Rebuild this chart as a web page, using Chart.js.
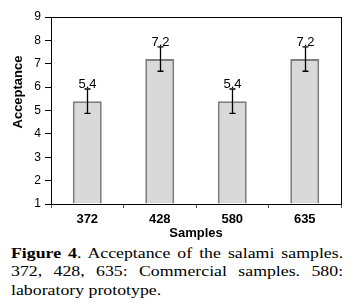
<!DOCTYPE html>
<html>
<head>
<meta charset="utf-8">
<script src="https://cdn.jsdelivr.net/npm/chart.js@4.4.0/dist/chart.umd.min.js"></script>
<style>
  body { margin: 0; background: #fff; overflow: hidden; }
  #wrap { width: 358px; height: 244px; }
  #cap {
    width: 280px; margin-left: 11px; margin-top: 0;
    font-family: "Liberation Serif", "Times New Roman", serif;
    font-size: 15px; line-height: 18.4px; color: #000;
    text-align: justify;
    transform: scaleX(1.186); transform-origin: left top;
  }
</style>
</head>
<body>
<div id="wrap"><canvas id="chart" width="358" height="244"></canvas></div>
<div id="cap"><b>Figure 4</b>. Acceptance of the salami samples. 372, 428, 635: Commercial samples. 580: laboratory prototype.</div>
<script>
// salami acceptance
const samples = ['372', '428', '580', '635'];
const acceptance = [5.4, 7.2, 5.4, 7.2];
const errors = [0.52, 0.52, 0.52, 0.52];
const labels = ['5.4', '7.2', '5.4', '7.2'];
const yTicks = [1, 2, 3, 4, 5, 6, 7, 8, 9];

const extras = {
  id: 'extras',
  afterDatasetsDraw(chart) {
    const ctx = chart.ctx;
    const x = chart.scales.x, y = chart.scales.y;
    ctx.save();
    ctx.strokeStyle = '#000';
    ctx.lineWidth = 1.3;
    ctx.fillStyle = '#000';
    ctx.font = '13px "Liberation Sans", Arial, sans-serif';
    ctx.textAlign = 'center';
    ctx.textBaseline = 'alphabetic';
    acceptance.forEach((v, i) => {
      const cx = Math.round(x.getPixelForValue(i)) + 0.5;
      const top = y.getPixelForValue(v + errors[i]);
      const bot = y.getPixelForValue(v - errors[i]);
      ctx.beginPath();
      ctx.moveTo(cx, top); ctx.lineTo(cx, bot);
      ctx.moveTo(cx - 3, top); ctx.lineTo(cx + 3, top);
      ctx.moveTo(cx - 3, bot); ctx.lineTo(cx + 3, bot);
      ctx.stroke();
      ctx.fillText(labels[i], cx, top - 1);
    });
    // box around plot
    const a = chart.chartArea;
    ctx.lineWidth = 1;
    ctx.strokeRect(Math.round(a.left) + 0.5, Math.round(a.top) + 0.5,
      Math.round(a.right - a.left), Math.round(a.bottom - a.top));
    // y title
    ctx.font = 'bold 13px "Liberation Sans", Arial, sans-serif';
    ctx.translate(18, 92);
    ctx.rotate(-Math.PI / 2);
    ctx.textBaseline = 'middle';
    ctx.fillText('Acceptance', 0, 0);
    ctx.restore();
  }
};

const ctx = document.getElementById('chart').getContext('2d');
const myChart = new Chart(ctx, {
  type: 'bar',
  data: {
    labels: samples,
    datasets: [{
      data: acceptance,
      backgroundColor: '#d9d9d9',
      borderColor: '#7f7f7f',
      borderWidth: 2,
      categoryPercentage: 1,
      barPercentage: 0.4,
      base: 1
    }]
  },
  options: {
    responsive: false,
    animation: false,
    layout: { padding: { top: 17, right: 17, left: 0, bottom: 0 } },
    plugins: { legend: { display: false }, tooltip: { enabled: false } },
    scales: {
      x: {
        afterFit: s => { s.height = 40; },
        border: { color: '#000', width: 1 },
        grid: { offset: true, drawOnChartArea: false, drawTicks: true, tickLength: 4, color: '#555' },
        ticks: { color: '#000', padding: 4, font: { family: '"Liberation Sans", Arial', size: 13, weight: 'bold' } },
        title: { display: true, text: 'Samples', color: '#000', padding: { top: 0, bottom: 3 },
          font: { family: '"Liberation Sans", Arial', size: 13, weight: 'bold' } }
      },
      y: {
        min: 1, max: 9,
        afterFit: s => { s.width = 51; },
        afterBuildTicks: s => { s.ticks = yTicks.map(v => ({ value: v })); },
        border: { color: '#000', width: 1 },
        grid: { drawOnChartArea: false, drawTicks: true, tickLength: 6, color: '#000' },
        ticks: { color: '#000', padding: 4, font: { family: '"Liberation Sans", Arial', size: 12 } }
      }
    }
  },
  plugins: [extras]
});
</script>
</body>
</html>
